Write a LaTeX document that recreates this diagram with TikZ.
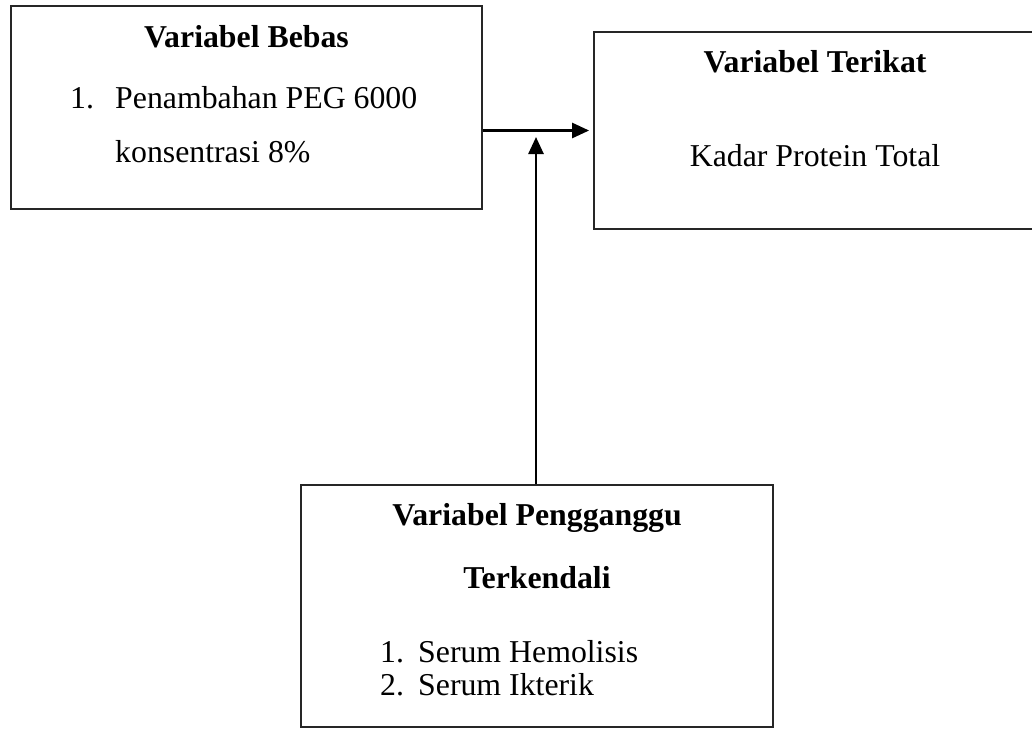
\documentclass[tikz,border=0pt]{standalone}
\usepackage{fontspec}
\setmainfont{Liberation Serif}
\usetikzlibrary{arrows.meta}
\begin{document}
\begin{tikzpicture}[x=1pt,y=-1pt,
  box/.style={draw=black!85, line width=1.8pt, rectangle, inner sep=0pt},
  txt/.style={inner sep=0pt, anchor=base, font=\fontsize{31.8}{38}\selectfont},
  ttl/.style={txt, font=\fontsize{31.8}{38}\selectfont\bfseries},
  lft/.style={txt, anchor=base west},
  arr/.style={line width=2.6pt, -{Triangle[length=17pt,width=15pt]}}]
\clip (0,0) rectangle (1032,728);
% boxes
\node[box, minimum width=471pt, minimum height=203pt] (b1) at (246.5,107.5) {};
\node[box, minimum width=442pt, minimum height=197pt] (b2) at (815,130.5) {};
\node[box, minimum width=472pt, minimum height=242pt] (b3) at (537,606) {};
% box 1 text
\node[ttl] (t1) at (246.5,47) {Variabel Bebas};
\node[lft] (n1) at (70,108) {1.};
\node[lft] (l1a) at (115,108) {Penambahan PEG 6000};
\node[lft] (l1b) at (115,162) {konsentrasi 8\%};
% box 2 text
\node[ttl] (t2) at (815,72) {Variabel Terikat};
\node[txt] (l2) at (815,166) {Kadar Protein Total};
% box 3 text
\node[ttl] (t3) at (537,525) {Variabel Pengganggu};
\node[ttl] (t3b) at (537,588) {Terkendali};
\node[lft] (n31) at (380,662) {1.};
\node[lft] (l31) at (418,662) {Serum Hemolisis};
\node[lft] (n32) at (380,695) {2.};
\node[lft] (l32) at (418,695) {Serum Ikterik};
% connectors
\coordinate (vt) at (536,137);
\draw[arr, shorten >=4pt] (b1.east |- b2.west) -- (b2.west);
\draw[arr] (b3.north -| vt) -- (vt);
\end{tikzpicture}
\end{document}
